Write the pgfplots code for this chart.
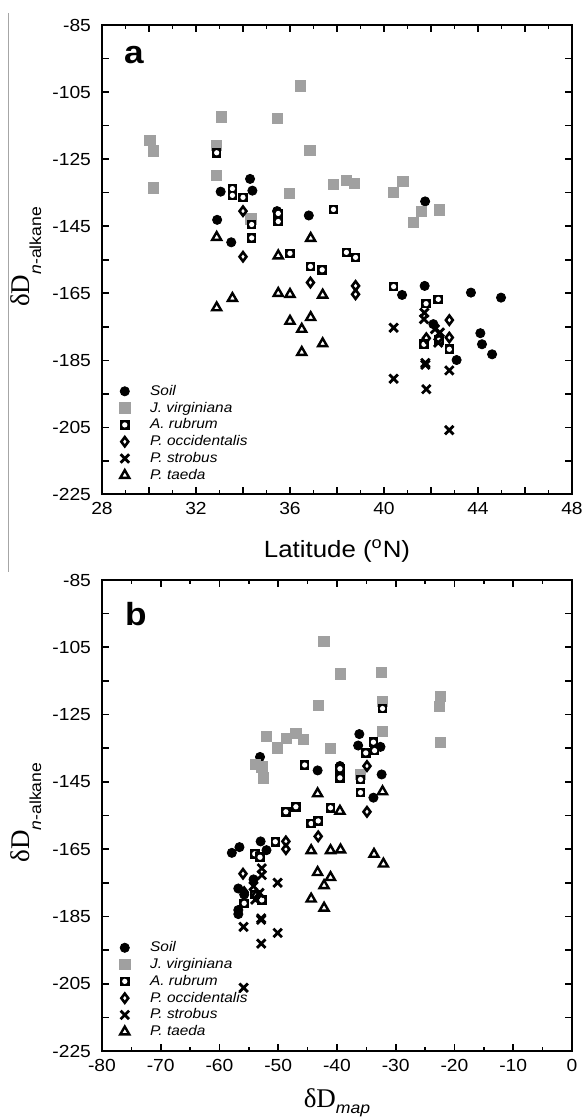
\documentclass[border=0pt]{standalone}
\usepackage{fontspec}
\setmainfont{Liberation Sans}[FakeStretch=1.1]
\newfontfamily\serif{Liberation Serif}
\usepackage{pgfplots}
\pgfplotsset{compat=1.18}

\definecolor{jvgray}{RGB}{160,160,160}

% square with a white dot in it (A. rubrum)
\pgfdeclareplotmark{sqdot}{%
  \pgfpathrectangle{\pgfqpoint{-\pgfplotmarksize}{-\pgfplotmarksize}}{\pgfqpoint{2\pgfplotmarksize}{2\pgfplotmarksize}}%
  \pgfusepathqfill
  \begin{pgfscope}
  \pgfsetfillcolor{white}%
  \pgfpathcircle{\pgfpointorigin}{0.55\pgfplotmarksize}%
  \pgfusepathqfill
  \end{pgfscope}}

\pgfplotsset{
  onemark/.style={legend image code/.code={\draw[##1] plot coordinates {(0pt,0pt)};\path (-3pt,0pt) (12pt,0pt);}},
  soil/.style={only marks, mark=*, mark size=2.3pt, black, onemark},
  jv/.style={only marks, mark=square*, mark size=2.6pt, jvgray, onemark},
  ar/.style={only marks, mark=sqdot, mark size=2.4pt, black, onemark},
  po/.style={only marks, mark=diamond, mark size=2.3pt, black, mark options={line width=1.3pt, fill=white}, onemark},
  ps/.style={only marks, mark=x, mark size=3pt, black, mark options={line width=1.4pt}, onemark},
  pt/.style={only marks, mark=triangle, mark size=2.6pt, black, mark options={line width=1.2pt, fill=white}, onemark},
  panel/.style={
    scale only axis, width=235pt,
    axis line style={line width=1pt},
    tick style={line width=0.8pt, black},
    major tick length=3.5pt, minor tick length=2pt,
    tick align=inside,
    tick label style={font=\fontsize{8.75}{10}\selectfont},
    yticklabel style={xshift=-2pt},
    xticklabel style={yshift=-0.5pt},
    ymin=-225, ymax=-85,
    ytick={-225,-215,...,-85},
    yticklabels={-225,,-205,,-185,,-165,,-145,,-125,,-105,,-85},
    ylabel={{\serif\fontsize{13.5}{13.5}\selectfont δD}\raisebox{-6pt}{\fontsize{8}{8}\selectfont\textit{n}-alkane}},
    ylabel style={at={(axis description cs:-0.155,0.506)}, anchor=base},
    legend cell align=left,
    legend style={draw=none, fill=none, inner sep=0pt, row sep=0.4pt,
      font=\fontsize{7}{8}\selectfont\itshape,
      nodes={inner sep=0.5pt, text height=5.5pt, text depth=1.5pt},
      at={(axis description cs:0.034,0.023)}, anchor=south west},
    clip=false,
  },
}

\begin{document}
\begin{tikzpicture}
\useasboundingbox (0pt,0pt) rectangle (291pt,559.5pt);
\draw[gray!70, line width=0.6pt] (4.3pt,553pt) -- (4.3pt,273.5pt);

% ---------------- panel a ----------------
\begin{axis}[panel, at={(51pt,312.25pt)}, anchor=south west, height=234.75pt,
  xmin=28, xmax=48,
  xtick={28,30,...,48},
  xticklabels={28,,32,,36,,40,,44,,48},
  minor x tick num=1,
  xlabel={\fontsize{11.75}{12}\selectfont Latitude (\textsuperscript{o}N)},
  xlabel style={at={(axis description cs:0.5,-0.134)}, anchor=base},
]
\addplot[soil] table {
34.3 -130.9
33.05 -134.7
34.4 -134.4
32.9 -143.1
33.5 -149.8
35.45 -140.5
36.8 -141.8
41.75 -137.6
41.73 -162.8
40.77 -165.5
43.7 -164.8
44.98 -166.3
42.1 -174.2
44.1 -176.9
44.17 -180.2
44.6 -183.2
43.09 -184.9
};
\addlegendentry{Soil}
\addplot[jv] table {
30.04 -119.5
30.18 -122.6
30.18 -133.6
33.09 -112.4
32.88 -120.9
32.88 -129.9
35.47 -112.9
36.43 -103.2
36.85 -122.4
35.97 -135.3
34.34 -142.8
37.85 -132.6
38.4 -131.4
38.75 -132.2
40.4 -135.0
40.8 -131.7
41.25 -143.8
41.6 -140.5
42.35 -140.1
};
\addlegendentry{J. virginiana}
\addplot[ar] table {
32.88 -123.1
33.55 -133.8
33.55 -135.8
34.0 -136.4
34.37 -144.5
34.37 -148.5
35.5 -141.2
35.5 -143.6
36.0 -153.1
36.87 -157.0
37.37 -158.0
37.85 -140.0
38.4 -152.8
38.79 -154.3
40.41 -163.0
41.79 -168.1
42.31 -166.8
41.7 -180.2
42.78 -181.7
42.35 -179.0
};
\addlegendentry{A. rubrum}
\addplot[po] table {
34.0 -140.5
34.0 -154.1
36.87 -161.8
38.79 -162.8
38.79 -165.3
42.78 -173.0
42.78 -178.2
41.8 -178.4
};
\addlegendentry{P. occidentalis}
\addplot[ps] table {
40.41 -175.3
40.41 -190.5
41.8 -193.6
41.76 -185.8
41.76 -186.3
42.78 -188.0
42.78 -205.8
41.72 -170.8
41.7 -172.7
42.17 -175.7
42.38 -176.7
42.31 -179.7
};
\addlegendentry{P. strobus}
\addplot[pt] table {
32.88 -148.3
36.88 -148.6
35.5 -153.8
32.88 -169.3
33.55 -166.5
35.5 -165.0
36.0 -165.3
37.39 -165.5
36.88 -172.2
36.0 -173.3
36.5 -175.7
37.39 -180.0
36.5 -182.6
};
\addlegendentry{P. taeda}
\node[anchor=base west, font=\bfseries\fontsize{16}{16}\selectfont] at (rel axis cs:0.032,0.919) {a};
\end{axis}

% ---------------- panel b ----------------
\begin{axis}[panel, at={(51pt,34pt)}, anchor=south west, height=235.5pt,
  xmin=-80, xmax=0,
  xtick={-80,-70,...,0},
  xticklabels={-80,-70,-60,-50,-40,-30,-20,-10,0},
  minor x tick num=1,
  xlabel={{\serif\fontsize{13.5}{13.5}\selectfont δD}\raisebox{-3pt}{\fontsize{8}{8}\selectfont\itshape map}},
  xlabel style={at={(axis description cs:0.5,-0.119)}, anchor=base},
]
\addplot[soil] table {
-57.9 -166.1
-56.6 -164.4
-53.0 -162.7
-52.0 -165.3
-53.1 -137.6
-43.3 -141.6
-36.2 -130.8
-36.4 -134.2
-32.6 -134.6
-32.4 -142.8
-33.8 -149.7
-39.5 -140.3
-56.8 -176.7
-55.8 -178.5
-56.8 -183.1
-56.8 -184.3
-54.2 -174.0
};
\addlegendentry{Soil}
\addplot[jv] table {
-42.2 -103.3
-39.4 -112.9
-32.4 -112.5
-32.25 -121.1
-32.25 -130.0
-43.2 -122.3
-22.4 -119.6
-22.6 -122.5
-22.4 -133.2
-52.0 -131.4
-50.1 -134.9
-48.6 -132.1
-47.0 -130.6
-45.7 -132.4
-41.1 -135.1
-53.9 -139.8
-52.8 -140.5
-52.5 -143.8
-36.0 -142.8
};
\addlegendentry{J. virginiana}
\addplot[ar] table {
-32.25 -123.2
-33.8 -133.2
-33.6 -135.7
-35.1 -136.4
-36.0 -144.3
-36.0 -148.2
-39.5 -141.1
-39.5 -143.8
-45.5 -140.0
-48.7 -153.9
-47.0 -152.4
-44.4 -157.4
-43.2 -156.6
-41.1 -152.7
-50.5 -162.8
-54.0 -166.4
-53.1 -167.4
-55.8 -181.1
-52.8 -180.1
-54.0 -178.5
};
\addlegendentry{A. rubrum}
\addplot[po] table {
-34.9 -140.3
-34.9 -153.9
-43.2 -161.2
-48.7 -162.7
-48.7 -165.0
-56.0 -172.3
-55.8 -177.8
-53.8 -178.8
};
\addlegendentry{P. occidentalis}
\addplot[ps] table {
-55.9 -188.1
-52.9 -193.1
-50.1 -189.9
-50.1 -175.0
-55.9 -206.2
-52.9 -185.6
-52.9 -186.0
-52.8 -170.7
-52.8 -172.7
-53.9 -180.0
-54.2 -176.0
-53.2 -178.0
};
\addlegendentry{P. strobus}
\addplot[pt] table {
-43.3 -148.5
-32.25 -147.9
-39.5 -153.7
-44.4 -165.4
-41.1 -165.4
-39.4 -165.2
-33.7 -166.5
-32.1 -169.4
-43.3 -171.9
-41.1 -173.4
-42.2 -175.8
-44.4 -179.8
-42.2 -182.5
};
\addlegendentry{P. taeda}
\node[anchor=base west, font=\bfseries\fontsize{16}{16}\selectfont] at (rel axis cs:0.034,0.904) {b};
\end{axis}
\end{tikzpicture}
\end{document}
